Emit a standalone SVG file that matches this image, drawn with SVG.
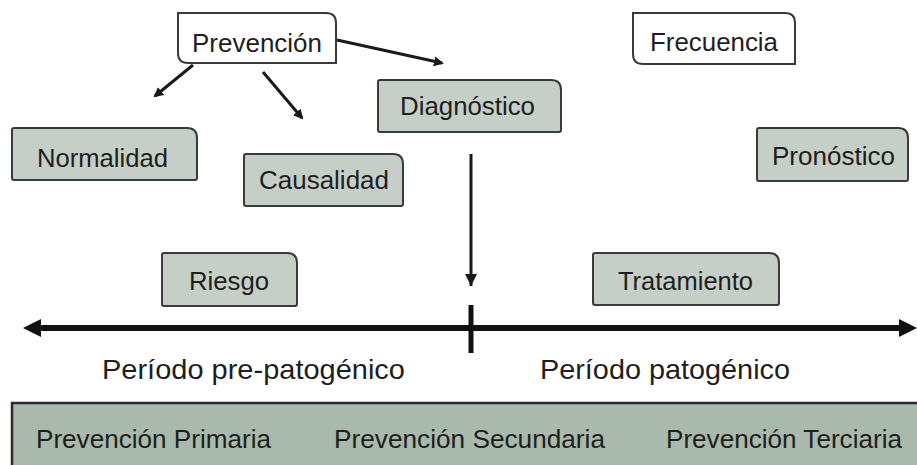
<svg xmlns="http://www.w3.org/2000/svg" width="917" height="465" viewBox="0 0 917 465">
<style>
.box{fill:#c6cec8;stroke:#3a3a3a;stroke-width:2}
.wbox{fill:#ffffff;stroke:#3a3a3a;stroke-width:2}
.t{font-family:"Liberation Sans",Arial,sans-serif;fill:#1e1e1e;font-size:26px}
.big{font-size:28px}
.bar{fill:#a9b9ab;stroke:#2a2a2a;stroke-width:2.5}
.conn{stroke:#1a1a1a;stroke-width:3;fill:none}
</style>
<defs>
<marker id="ah" markerWidth="10" markerHeight="10" refX="8" refY="5" orient="auto" markerUnits="userSpaceOnUse">
<path d="M0,0 L10,5 L0,10 Z" fill="#1a1a1a"/>
</marker>
<marker id="ahv" markerWidth="12" markerHeight="14" refX="12" refY="6" orient="auto" markerUnits="userSpaceOnUse">
<path d="M0,0 L12,6 L0,12 Z" fill="#1a1a1a"/>
</marker>
</defs>
<rect width="917" height="465" fill="#ffffff"/>

<g id="connectors">
<line class="conn" x1="193" y1="65" x2="155" y2="96" marker-end="url(#ah)"/>
<line class="conn" x1="263" y1="72" x2="302" y2="118" marker-end="url(#ah)"/>
<line class="conn" x1="337" y1="40" x2="442" y2="63" marker-end="url(#ah)"/>
<line class="conn" x1="471" y1="154" x2="471" y2="286" marker-end="url(#ahv)"/>
<line x1="38" y1="328" x2="902" y2="328" stroke="#111" stroke-width="6"/>
<polygon points="23,328 41,319 41,337" fill="#111"/>
<polygon points="917,328 899,319 899,337" fill="#111"/>
<line x1="471" y1="305" x2="471" y2="353" stroke="#111" stroke-width="5"/>
</g>

<g id="prevencion">
<path class="wbox" d="M178,13 H326 Q336,13 336,23 V63 H188 Q178,63 178,53 Z"/>
<text class="t" x="192" y="52" textLength="130" lengthAdjust="spacingAndGlyphs">Prevención</text>
</g>
<g id="frecuencia">
<path class="wbox" d="M633,13 H785 Q795,13 795,23 V64 H643 Q633,64 633,54 Z"/>
<text class="t" x="650" y="51" textLength="128" lengthAdjust="spacingAndGlyphs">Frecuencia</text>
</g>
<g id="diagnostico">
<path class="box" d="M380,80 H551 Q561,80 561,90 V130 Q561,132 559,132 H380 Q378,132 378,130 V82 Q378,80 380,80 Z"/>
<text class="t" x="400" y="115" textLength="135" lengthAdjust="spacingAndGlyphs">Diagnóstico</text>
</g>
<g id="normalidad">
<path class="box" d="M14,128 H187 Q197,128 197,138 V178 Q197,180 195,180 H14 Q12,180 12,178 V130 Q12,128 14,128 Z"/>
<text class="t" x="37" y="167" textLength="131" lengthAdjust="spacingAndGlyphs">Normalidad</text>
</g>
<g id="causalidad">
<path class="box" d="M246,154 H393 Q403,154 403,164 V204 Q403,206 401,206 H246 Q244,206 244,204 V156 Q244,154 246,154 Z"/>
<text class="t" x="259" y="189" textLength="130" lengthAdjust="spacingAndGlyphs">Causalidad</text>
</g>
<g id="pronostico">
<path class="box" d="M759,128 H898 Q908,128 908,138 V179 Q908,181 906,181 H759 Q757,181 757,179 V130 Q757,128 759,128 Z"/>
<text class="t" x="772" y="165" textLength="123" lengthAdjust="spacingAndGlyphs">Pronóstico</text>
</g>
<g id="riesgo">
<path class="box" d="M164,253 H287 Q297,253 297,263 V304 Q297,306 295,306 H164 Q162,306 162,304 V255 Q162,253 164,253 Z"/>
<text class="t" x="189" y="290" textLength="80" lengthAdjust="spacingAndGlyphs">Riesgo</text>
</g>
<g id="tratamiento">
<path class="box" d="M595,253 H769 Q779,253 779,263 V303 Q779,305 777,305 H595 Q593,305 593,303 V255 Q593,253 595,253 Z"/>
<text class="t" x="618" y="290" textLength="135" lengthAdjust="spacingAndGlyphs">Tratamiento</text>
</g>

<g id="periodos">
<text class="t big" x="102" y="379" textLength="303" lengthAdjust="spacingAndGlyphs">Período pre-patogénico</text>
<text class="t big" x="540" y="379" textLength="250" lengthAdjust="spacingAndGlyphs">Período patogénico</text>
</g>

<g id="niveles">
<rect class="bar" x="12" y="403" width="912" height="70"/>
<text class="t" x="36" y="448" textLength="235" lengthAdjust="spacingAndGlyphs">Prevención Primaria</text>
<text class="t" x="334" y="448" textLength="271" lengthAdjust="spacingAndGlyphs">Prevención Secundaria</text>
<text class="t" x="666" y="448" textLength="236" lengthAdjust="spacingAndGlyphs">Prevención Terciaria</text>
</g>
</svg>
